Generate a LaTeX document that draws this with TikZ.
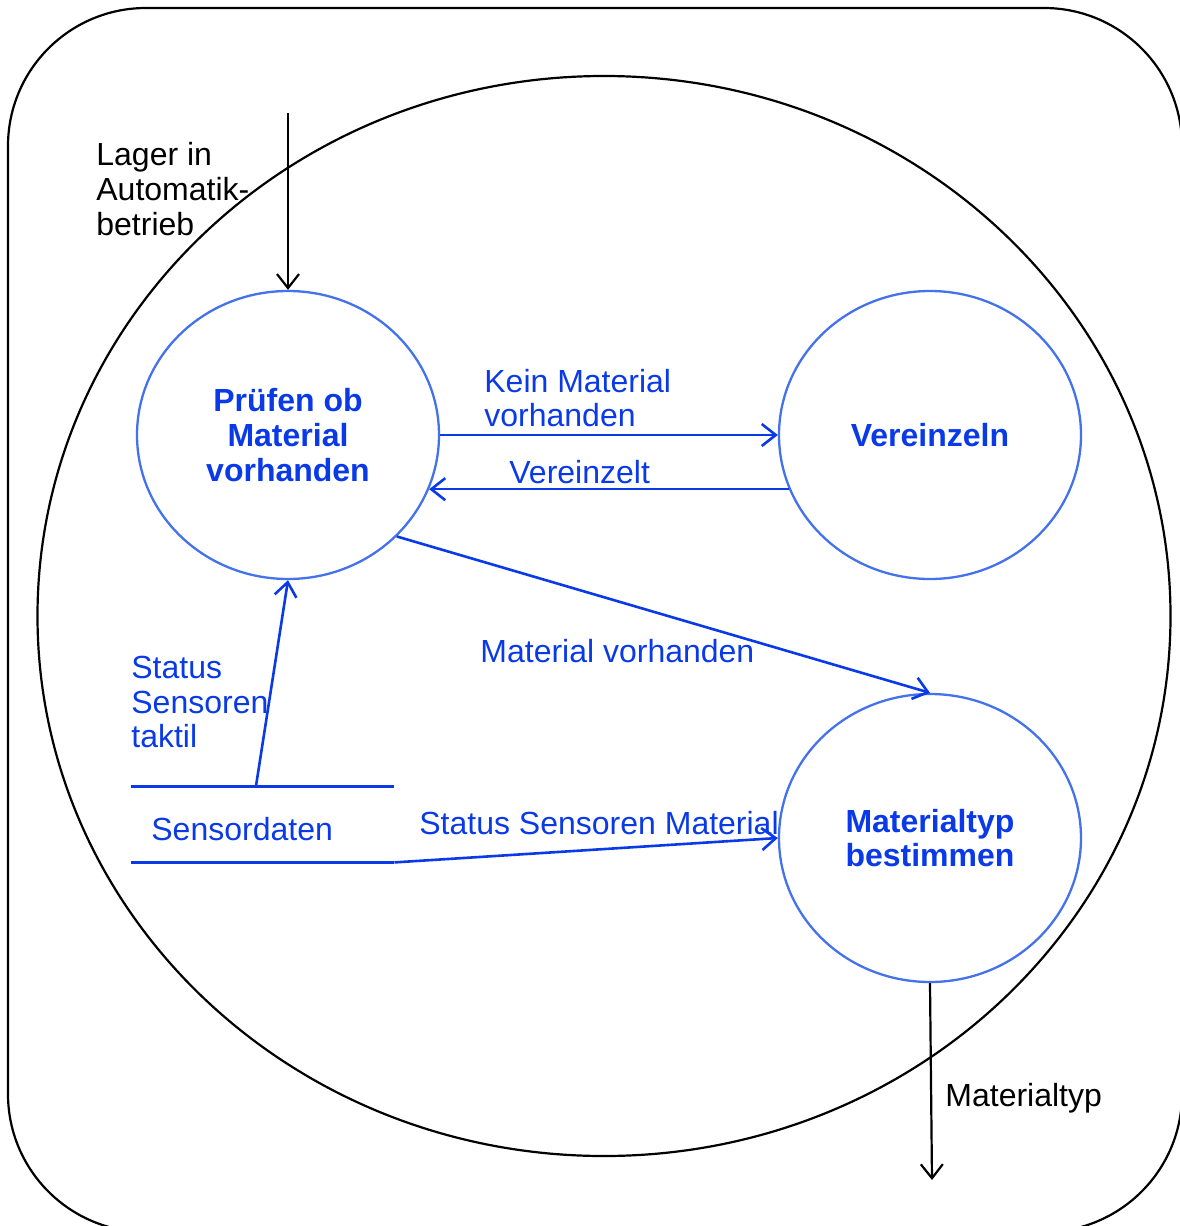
\documentclass[tikz,border=0pt]{standalone}
\usepackage{fontspec}
\setmainfont{Liberation Sans}
\usetikzlibrary{arrows.meta,shapes.geometric,calc}
\definecolor{flowblue}{HTML}{0A3AE8}
\definecolor{bubbleblue}{HTML}{4472EC}

\begin{document}
\begin{tikzpicture}[x=0.5pt,y=-0.5pt,
  font=\fontsize{16}{17.3}\selectfont,
  bubble/.style={ellipse, draw=bubbleblue, line width=1.15pt,
    minimum width=151pt, minimum height=144pt, inner sep=0pt,
    align=center, text=flowblue,
    font=\fontsize{16}{17.3}\selectfont\bfseries},
  flow/.style={draw=flowblue, line width=1.3pt,
    -{Straight Barb[length=7pt,width=11pt]}},
  extflow/.style={draw=black, line width=1.1pt,
    -{Straight Barb[length=7pt,width=11pt]}},
  storeline/.style={draw=flowblue, line width=1.3pt},
  lbl/.style={anchor=west, inner sep=0pt, align=left, text=flowblue},
  extlbl/.style={anchor=west, inner sep=0pt, align=left, text=black}]
\useasboundingbox (0,0) rectangle (1179,1226);

% system boundary and context circle
\draw[line width=1.1pt, rounded corners=69pt] (8,8) rectangle (1182,1232);
\node[ellipse, draw, line width=1.1pt, minimum width=566.5pt,
  minimum height=540pt, inner sep=0pt] (sys) at (604,616) {};

% processes
\node[bubble] (p) at (288,435) {Prüfen ob\\Material\\vorhanden};
\node[bubble] (v) at (930,435) {Vereinzeln};
\node[bubble] (m) at (930,838) {Materialtyp\\bestimmen};

% data store
\node[minimum width=131.5pt, minimum height=37.5pt, inner sep=0pt]
  (ds) at (262.5,824.5) {};
\draw[storeline] (ds.north west) -- (ds.north east);
\draw[storeline] (ds.south west) -- (ds.south east);
\node[lbl] (dslbl) at (151,829) {Sensordaten};

% external flows
\coordinate (lagerin) at (288,113);
\coordinate (typout) at (932,1180);
\draw[extflow] (lagerin) -- (p.north);
\draw[extflow] (m.south) -- (typout);
\node[extlbl] at (96,189) {Lager in\\Automatik-\\betrieb};
\node[extlbl] at (945,1098) {Materialtyp};

% internal flows
\draw[flow] (p.east) -- (v.west);
\node[lbl] at (484,398) {Kein Material\\vorhanden};
\draw[flow] (v.201.5) -- (p.-21.5);
\node[lbl] at (509,472) {Vereinzelt};
\draw[flow] (p.-43.4) -- (m.north);
\node[lbl] at (480,651) {Material vorhanden};
\draw[flow] ($(ds.north west)!0.475!(ds.north east)$) -- (p.south);
\node[lbl] at (131,702) {Status\\Sensoren\\taktil};
\draw[flow] (ds.south east) -- (m.west);
\node[lbl] at (419,823) {Status Sensoren Material};
\end{tikzpicture}
\end{document}
